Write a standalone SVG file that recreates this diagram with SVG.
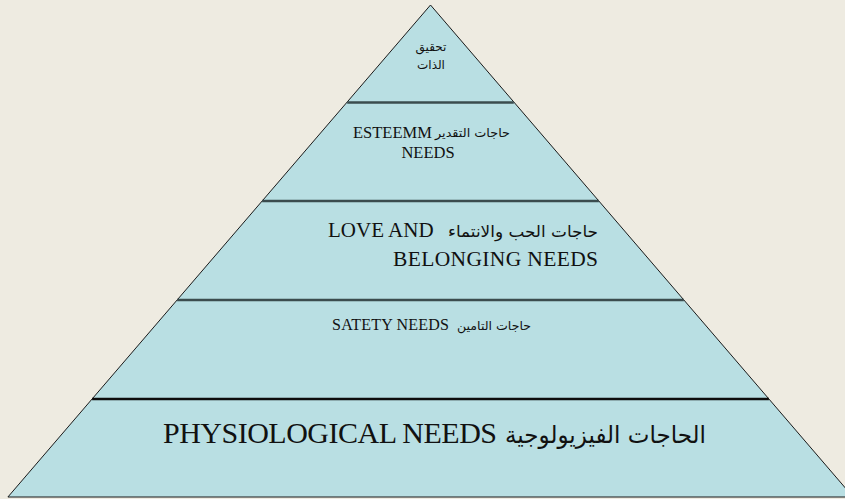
<svg xmlns="http://www.w3.org/2000/svg" width="845" height="499" viewBox="0 0 845 499">
  <style>
    .tier { fill: #b9dfe3; stroke: none; }
    .outline { fill: none; stroke: #1a1a1a; stroke-width: 1; }
    .divider { stroke: #3b4c4e; stroke-width: 2.5; }
    .divider.base { stroke: #0d0d0d; stroke-width: 2.5; }
    .lat { font-family: "Liberation Serif", "Times New Roman", serif; fill: #111; }
    .ar { font-family: "DejaVu Sans", "Liberation Sans", sans-serif; fill: #111; }
  </style>
  <rect width="845" height="499" fill="#eeebe1"/>

  <!-- Level 1: self-actualisation (apex) -->
  <g id="level-self-actualization">
    <polygon class="tier" points="430.5,5 513.8,102 347.2,102"/>
    <text class="ar" x="431" y="51" font-size="12" text-anchor="middle">تحقيق</text>
    <text class="ar" x="431" y="69" font-size="12" text-anchor="middle">الذات</text>
  </g>

  <!-- Level 2: esteem -->
  <g id="level-esteem">
    <polygon class="tier" points="347.2,102 513.8,102 598.9,201 262.1,201"/>
    <text class="lat" x="353" y="138" font-size="16.5">ESTEEMM</text>
    <text class="ar" x="510" y="137" font-size="12" text-anchor="end" textLength="75" lengthAdjust="spacingAndGlyphs">حاجات التقدير</text>
    <text class="lat" x="428" y="158" font-size="16.5" text-anchor="middle">NEEDS</text>
  </g>

  <!-- Level 3: love and belonging -->
  <g id="level-love-belonging">
    <polygon class="tier" points="262.1,201 598.9,201 683.9,300 177.1,300"/>
    <text class="lat" x="328" y="237" font-size="21">LOVE AND</text>
    <text class="ar" x="598" y="237" font-size="16" text-anchor="end" textLength="150" lengthAdjust="spacingAndGlyphs">حاجات الحب والانتماء</text>
    <text class="lat" x="598" y="266" font-size="21.5" text-anchor="end" textLength="205" lengthAdjust="spacing">BELONGING NEEDS</text>
  </g>

  <!-- Level 4: safety -->
  <g id="level-safety">
    <polygon class="tier" points="177.1,300 683.9,300 768.9,399 92.1,399"/>
    <text class="lat" x="332" y="330" font-size="16" textLength="117" lengthAdjust="spacing">SATETY NEEDS</text>
    <text class="ar" x="531" y="330" font-size="12" text-anchor="end" textLength="74" lengthAdjust="spacingAndGlyphs">حاجات التامين</text>
  </g>

  <!-- Level 5: physiological (base) -->
  <g id="level-physiological">
    <polygon class="tier" points="92.1,399 768.9,399 853.1,497 7.9,497"/>
    <text class="lat" x="163" y="443" font-size="30" textLength="334" lengthAdjust="spacing">PHYSIOLOGICAL NEEDS</text>
    <text class="ar" x="706" y="443" font-size="24" text-anchor="end" textLength="201" lengthAdjust="spacingAndGlyphs">الحاجات الفيزيولوجية</text>
  </g>

  <!-- Outline and tier dividers -->
  <g id="connectors">
    <polygon class="outline" points="430.5,5 853.1,497 7.9,497"/>
    <line class="divider" x1="347.2" y1="102.5" x2="513.8" y2="102.5"/>
    <line class="divider" x1="262.1" y1="201" x2="598.9" y2="201"/>
    <line class="divider" x1="177.1" y1="300" x2="683.9" y2="300"/>
    <line class="divider base" x1="92.1" y1="399" x2="768.9" y2="399"/>
  </g>
</svg>
